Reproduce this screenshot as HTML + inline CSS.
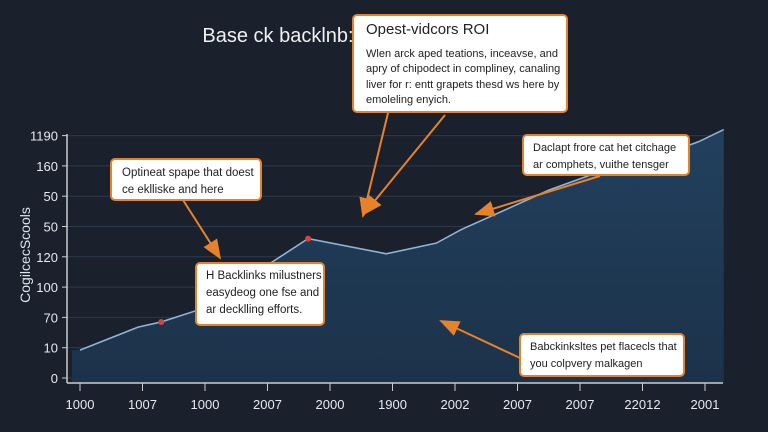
<!DOCTYPE html>
<html><head><meta charset="utf-8"><style>
body{margin:0;width:768px;height:432px;background:#1a212d;overflow:hidden;font-family:"Liberation Sans",sans-serif}
svg{position:absolute;left:0;top:0}
.box{position:absolute;background:#fff;border:2px solid #e8822a;border-radius:5px;box-sizing:border-box;color:#222;font-size:11.5px;line-height:17px;padding:5px 8px;white-space:nowrap;overflow:hidden}
</style></head><body>
<svg width="768" height="432" id="chart">
<defs><linearGradient id="g" x1="0" y1="0" x2="0" y2="1"><stop offset="0" stop-color="#22405e"/><stop offset="1" stop-color="#1c3249"/></linearGradient>
<marker id="ah" markerWidth="10" markerHeight="8" refX="9" refY="4" orient="auto"><path d="M0,0L10,4L0,8z" fill="#e8822a"/></marker></defs>
<g id="grid"></g><path id="area" fill="url(#g)"/><path id="line" fill="none" stroke="#8fb3d6" stroke-width="1.6"/>
<g id="axes"></g><g id="dots"></g>
<text x="30" y="255" fill="#dde3ea" font-size="14" transform="rotate(-90 30 255)" text-anchor="middle">CogilcecScools</text>
<text x="278" y="42" fill="#f0f0f0" font-size="20" text-anchor="middle">Base ck backlnb:</text>
<g stroke="#e8822a" stroke-width="2" marker-end="url(#ah)">
<line x1="388" y1="113" x2="363" y2="216"/><line x1="445" y1="115" x2="364" y2="214"/>
<line x1="183" y1="200" x2="220" y2="258"/><line x1="600" y1="176" x2="476" y2="214"/><line x1="520" y1="358" x2="441" y2="321"/></g>
</svg>
<div class="box" style="left:352px;top:14px;width:216px;height:99px;font-size:11px;line-height:15.5px;padding:6px 12px"><div style="font-size:15px;margin-bottom:9px">Opest-vidcors ROI</div>Wlen arck aped teations, inceavse, and<br>apry of chipodect in compliney, canaling<br>liver for r: entt grapets thesd ws here by<br>emoleling enyich.</div>
<div class="box" style="left:110px;top:158px;width:152px;height:43px;padding:5px 10px">Optineat spape that doest<br>ce eklliske and here</div>
<div class="box" style="left:195px;top:262px;width:130px;height:64px;padding:4px 9px">H Backlinks milustners<br>easydeog one fse and<br>ar decklling efforts.</div>
<div class="box" style="left:522px;top:134px;width:168px;height:42px;font-size:11px;padding:4px 9px">Daclapt frore cat het citchage<br>ar comphets, vuithe tensger</div>
<div class="box" style="left:519px;top:333px;width:166px;height:44px;font-size:11px;padding:4px 9px">Babckinksltes pet flacecls that<br>you colpvery malkagen</div>
<script>
const yTicks=["0","10","70","100","120","50","50","160","1190"];
const xTicks=["1000","1007","1000","2007","2000","1900","2002","2007","2007","22012","2001"];
const xs=[0,0.93,1.3,1.9,3.65,4.9,5.7,6.1,6.75,7.5,8.3,9.1,9.9,10.3];
const vals=[0.92,1.68,1.85,2.25,4.6,4.1,4.45,4.9,5.5,6.2,6.8,7.2,7.8,8.2];
const dotIdx=[2,4];
const X=i=>80+i*62.5, Y=v=>378-v*30.3;
const NS="http://www.w3.org/2000/svg";
function mk(t,a,p){const e=document.createElementNS(NS,t);for(const k in a)e.setAttribute(k,a[k]);p.appendChild(e);return e;}
const grid=document.getElementById('grid'),axes=document.getElementById('axes'),dots=document.getElementById('dots');
yTicks.forEach((l,i)=>{const y=Y(i);
 const g=mk('line',{x1:67,x2:723,y1:y,y2:y,stroke:'#2a3a4c','stroke-width':1},grid);
 
 
 mk('line',{x1:62,x2:67,y1:y,y2:y,stroke:'#ccc'},axes);
 const t=mk('text',{x:58,y:y+5,fill:'#e6e9ee','font-size':13,'text-anchor':'end'},axes);t.textContent=l;
 
 });
xTicks.forEach((l,i)=>{const x=X(i);
 mk('line',{x1:x,x2:x,y1:383,y2:391,stroke:'#ccc'},axes);
 const t=mk('text',{x:x,y:409,fill:'#e6e9ee','font-size':13,'text-anchor':'middle'},axes);t.textContent=l;
 
 });
mk('line',{x1:67,x2:67,y1:134,y2:383,stroke:'#ccc','stroke-width':1.5},axes);
mk('line',{x1:67,x2:723,y1:383,y2:383,stroke:'#ccc','stroke-width':1.5},axes);
let d=xs.map((x,i)=>(i?'L':'M')+X(x)+','+Y(vals[i])).join('');
document.getElementById('line').setAttribute('d',d);
document.getElementById('area').setAttribute('d','M72,383L72,'+Y(vals[0])+d.replace('M','L')+'L'+X(xs[xs.length-1])+',383Z');
dotIdx.forEach(i=>{const c=mk('circle',{cx:X(xs[i]),cy:Y(vals[i]),r:3,fill:'#d9443a'},dots);
 
 });
</script>
</body></html>
